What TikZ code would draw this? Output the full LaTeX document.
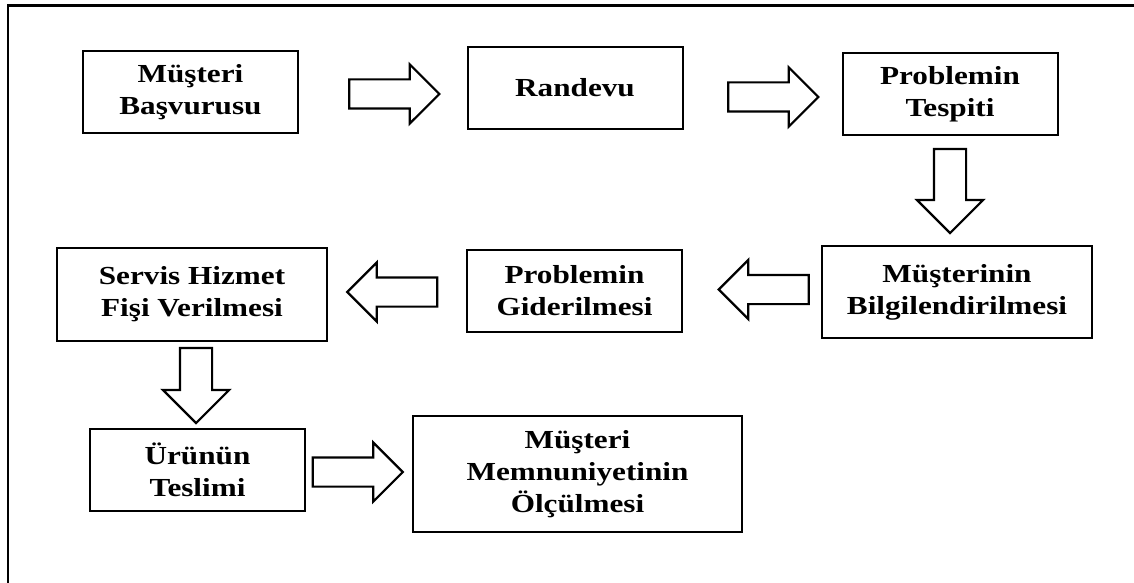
\documentclass[tikz,border=0pt]{standalone}
\usepackage{fontspec}
\setmainfont{Liberation Serif}[FakeStretch=1.2]
\usetikzlibrary{shapes.arrows}

\tikzset{
  stepbox/.style={draw, line width=1pt, align=center, font=\fontsize{13}{16}\selectfont\bfseries, minimum width=107.5pt, minimum height=41pt},
  flowarrow/.style={draw, line width=1.1pt, single arrow, inner sep=6.75pt, minimum height=45pt, single arrow head extend=7.5pt},
  downarrow/.style={flowarrow, shape border rotate=270, inner sep=7.5pt, single arrow head extend=8.5pt}
}

\begin{document}
\begin{tikzpicture}[x=0.5pt, y=-0.5pt]
\useasboundingbox (0,0) rectangle (1134,583);

% Frame
\draw [line width=1.4pt] (1134,5.5) -- (8,5.5) -- (8,583);

% First row
\node[stepbox] (A) at (190.5,92) {Müşteri\\Başvurusu};
\node[stepbox] (B) at (575,88) {Randevu};
\node[stepbox] (C) at (950,94) {Problemin\\Tespiti};

% Second row
\node[stepbox, minimum width=135pt, minimum height=46pt] (D) at (957,292) {Müşterinin\\Bilgilendirilmesi};
\node[stepbox] (E) at (574.5,291) {Problemin\\Giderilmesi};
\node[stepbox, minimum width=135pt, minimum height=46.5pt] (F) at (192,294.5) {Servis Hizmet\\Fişi Verilmesi};

% Third row
\node[stepbox] (G) at (197.5,469.5) {Ürünün\\Teslimi};
\node[stepbox, minimum width=164.5pt, minimum height=58pt] (H) at (577.5,474) {Müşteri\\Memnuniyetinin\\Ölçülmesi};

% Arrows
\node[flowarrow] (AB) at (387,94) {};
\node[flowarrow] (BC) at (766,97) {};
\node[downarrow, minimum height=42pt] (CD) at (950,183) {};
\node[flowarrow, shape border rotate=180] (DE) at (771,289.5) {};
\node[flowarrow, shape border rotate=180] (EF) at (399.5,292) {};
\node[downarrow, minimum height=37.5pt] (FG) at (196,377.5) {};
\node[flowarrow] (GH) at (350.5,472) {};

\end{tikzpicture}
\end{document}
